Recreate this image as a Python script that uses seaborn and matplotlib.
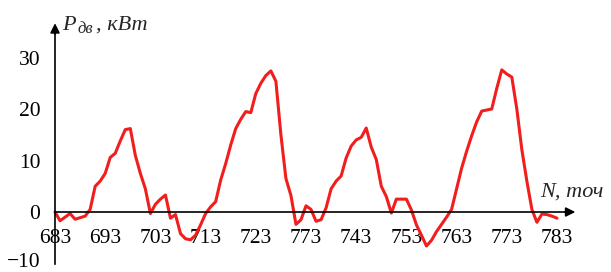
import matplotlib.pyplot as plt
import matplotlib.transforms as mtransforms
import pandas as pd
import seaborn as sns

# samples, one per point N = 683 ... 783
n_points = list(range(683, 784))
p_dv = [
    0.0, -1.7, -1.0, -0.3, -1.4, -1.1, -0.8, 0.5, 5.0, 6.0,      # 683-692
    7.5, 10.6, 11.4, 13.8, 16.0, 16.2, 11.0, 7.5, 4.5, -0.3,     # 693-702
    1.5, 2.5, 3.3, -1.2, -0.5, -4.2, -5.2, -5.4, -4.5, -2.5,     # 703-712
    -0.3, 1.0, 2.0, 6.2, 9.4, 13.0, 16.2, 18.0, 19.5, 19.3,      # 713-722
    23.0, 25.0, 26.5, 27.4, 25.4, 15.0, 6.5, 3.2, -2.4, -1.5,    # 723-732
    1.2, 0.5, -1.8, -1.5, 0.8, 4.5, 6.0, 7.0, 10.5, 12.8,        # 733-742
    14.0, 14.5, 16.3, 12.6, 10.2, 5.0, 3.0, -0.2, 2.5, 2.5,      # 743-752
    2.5, 0.4, -2.5, -4.5, -6.6, -5.5, -3.8, -2.4, -1.0, 0.5,     # 753-762
    4.5, 8.5, 11.8, 14.8, 17.5, 19.6, 19.8, 20.0, 24.0, 27.6,    # 763-772
    26.8, 26.2, 20.0, 12.1, 6.0, 0.5, -2.0, -0.4, -0.5, -0.8,    # 773-782
    -1.2,                                                         # 783
]
x_ticks = list(range(683, 784, 10))
# the source figure prints "773" under 733
x_tick_labels = ["683", "693", "703", "713", "723", "773",
                 "743", "753", "763", "773", "783"]
y_ticks = [-10, 0, 10, 20, 30]

df = pd.DataFrame({"N": n_points, "P": p_dv})

sns.set_style("white")
plt.rcParams["font.family"] = ["Liberation Serif", "DejaVu Serif"]

fig = plt.figure(figsize=(6.11, 2.72), dpi=100)
ax = fig.add_axes([0, 0, 1, 1])

sns.lineplot(data=df, x="N", y="P", color="#f21e1e", linewidth=2.2, ax=ax)

ax.set_xlim(672.04, 793.76)
ax.set_ylim(-11.65, 41.17)

# axes crossing at (683, 0)
ax.spines["left"].set_position(("data", 683))
ax.spines["bottom"].set_position(("data", 0))
ax.spines["left"].set_bounds(-10.0, 36.0)
ax.spines["bottom"].set_bounds(683, 786)
for s in ["left", "bottom"]:
    ax.spines[s].set_color("black")
    ax.spines[s].set_linewidth(1.2)
ax.spines["top"].set_visible(False)
ax.spines["right"].set_visible(False)

ax.set_xticks(x_ticks)
ax.set_xticklabels(x_tick_labels)
ax.set_yticks(y_ticks)
ax.tick_params(axis="both", direction="inout", length=7, width=1.2,
               colors="black", labelsize=15.5)
ax.tick_params(axis="x", pad=9)
ax.tick_params(axis="y", pad=7)
ax.set_xlabel("")
ax.set_ylabel("")

# lift the bottom "-10" label a little so it stays inside the picture
lab = ax.get_yticklabels()[0]
lab.set_transform(lab.get_transform()
                  + mtransforms.ScaledTranslation(0, 2.5 / 72, fig.dpi_scale_trans))

# arrow heads
ax.annotate("", xy=(787.2, 0), xytext=(784, 0),
            arrowprops=dict(arrowstyle="-|>", color="black", lw=1.2,
                            mutation_scale=14))
ax.annotate("", xy=(683, 37.2), xytext=(683, 34),
            arrowprops=dict(arrowstyle="-|>", color="black", lw=1.2,
                            mutation_scale=14))

# axis titles
W, H = 611, 272
fig.text(62 / W, 1 - 30 / H, "P", style="italic", fontsize=16)
fig.text(77 / W, 1 - 33 / H, "дв", style="italic", fontsize=12)
fig.text(96 / W, 1 - 30 / H, ", кВт", style="italic", fontsize=16)
fig.text(540 / W, 1 - 197 / H, "N, точ", style="italic", fontsize=16)

fig.savefig("out.png", dpi=100)
